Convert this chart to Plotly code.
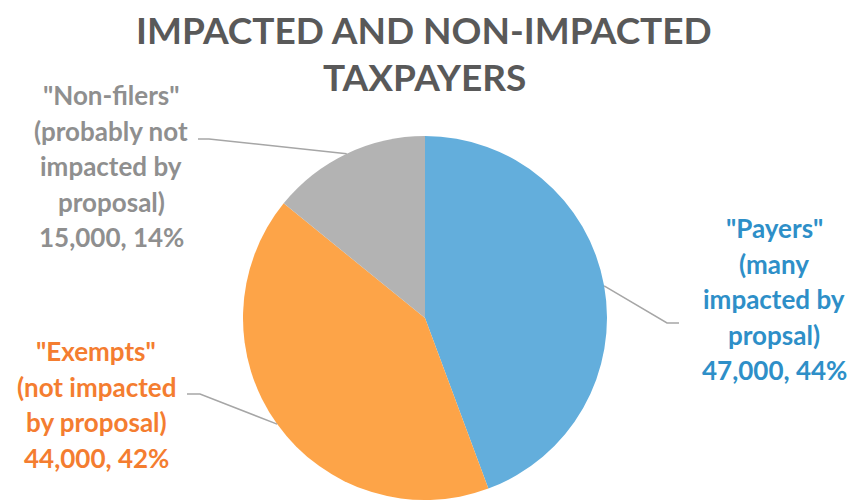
import math
import plotly.graph_objects as go

# Taxpayer groups
categories = ['"Payers"', '"Exempts"', '"Non-filers"']
counts = [47000, 44000, 15000]
descriptions = [
    ["(many", "impacted by", "propsal)"],
    ["(not impacted", "by proposal)"],
    ["(probably not", "impacted by", "proposal)"],
]
slice_colors = ["#63AEDC", "#FDA448", "#B3B3B3"]
label_colors = ["#2E8FC8", "#F47D30", "#8F8F8F"]

W, H = 866, 500
FONT = "Lato"

# Pie geometry (pixels)
cx, cy, r = 425, 318, 182

# Label blocks: centre x, first line y, line step; leader line elbow
label_pos = [
    dict(x=774, y0=228, elbow=[(667, 323), (679, 323)]),
    dict(x=96, y0=351, elbow=[(200, 394), (187, 394)]),
    dict(x=111, y0=95, elbow=[(209, 139), (198, 139)]),
]
LINE_STEP = 35.5

def px(x):
    return x / W

def py(y):
    return 1 - y / H

fig = go.Figure(
    go.Pie(
        labels=categories,
        values=counts,
        sort=False,
        direction="clockwise",
        rotation=0,
        marker=dict(colors=slice_colors, line=dict(width=0)),
        textinfo="none",
        hoverinfo="label+value+percent",
        domain=dict(x=[px(cx - r), px(cx + r)], y=[py(cy + r), py(cy - r)]),
        showlegend=False,
    )
)

total = sum(counts)
annotations = []
shapes = []
cum = 0
for i, (name, val) in enumerate(zip(categories, counts)):
    frac = val / total
    mid = (cum + frac / 2) * 2 * math.pi
    cum += frac
    ax = cx + r * math.sin(mid)
    ay = cy - r * math.cos(mid)
    pct = round(frac * 100)
    lines = [name] + descriptions[i] + [f"{val:,}, {pct}%"]
    pos = label_pos[i]
    for k, line in enumerate(lines):
        annotations.append(
            dict(
                x=px(pos["x"]), y=py(pos["y0"] + k * LINE_STEP),
                xref="paper", yref="paper",
                text=f"<b>{line}</b>", showarrow=False,
                xanchor="center", yanchor="middle",
                font=dict(family=FONT, size=26, color=label_colors[i]),
            )
        )
    pts = [(ax, ay)] + pos["elbow"]
    path = "M " + " L ".join(f"{px(x)},{py(y)}" for x, y in pts)
    shapes.append(
        dict(type="path", xref="paper", yref="paper", path=path,
             line=dict(color="#A6A6A6", width=1.5))
    )

title_lines = ["IMPACTED AND NON-IMPACTED", "TAXPAYERS"]
for k, t in enumerate(title_lines):
    annotations.append(
        dict(
            x=px(424), y=py(29 + k * 47), xref="paper", yref="paper",
            text=f"<b>{t}</b>", showarrow=False,
            xanchor="center", yanchor="middle",
            font=dict(family=FONT, size=37, color="#595959"),
        )
    )

fig.update_layout(
    width=W, height=H,
    margin=dict(l=0, r=0, t=0, b=0),
    paper_bgcolor="white",
    plot_bgcolor="white",
    annotations=annotations,
    shapes=shapes,
)

fig.write_html("out.html")
